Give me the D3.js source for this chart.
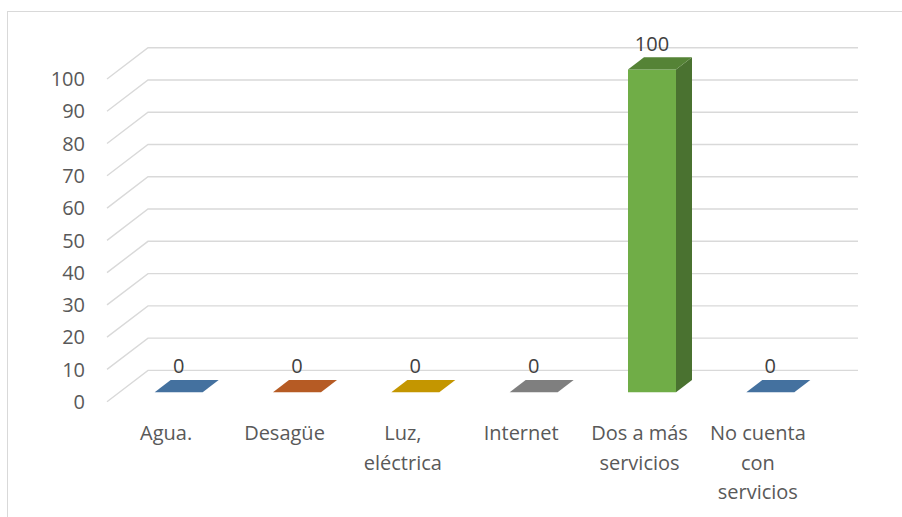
<!DOCTYPE html>
<html>
  <head>
    <meta charset="utf-8">
    <style>
body {
  margin: 0;
  background: #fff;
  font-family: 'Open Sans', sans-serif;
}
</style>
    <title></title>
  </head>
  <body>
    <svg width="902" height="517"></svg>
    <script src="https://d3js.org/d3.v7.min.js"></script>
    <script>
// data
var categories = ["Agua.", "Desagüe", "Luz, eléctrica", "Internet", "Dos a más servicios", "No cuenta con servicios"];
var values = [0, 0, 0, 0, 100, 0];
var yTicks = [0, 10, 20, 30, 40, 50, 60, 70, 80, 90, 100];

// face colours per point (front, top, side)
var frontColors = ["#5b9bd5", "#ed7d31", "#ffc000", "#a5a5a5", "#70ad47", "#5b9bd5"];
var topColors = ["#44719f", "#b65b24", "#c49600", "#7f7f7f", "#558336", "#44719f"];
var sideColors = ["#38618a", "#9a4c1e", "#a67f00", "#6b6b6b", "#4a7230", "#38618a"];

var svg = d3.select("svg");

// chart border (runs off the right and bottom of the picture)
svg.append("rect")
    .attr("x", 7.5)
    .attr("y", 11.5)
    .attr("width", 1000)
    .attr("height", 600)
    .attr("fill", "none")
    .attr("stroke", "#d9d9d9")
    .attr("stroke-width", 1);

// front plane scales, depth goes up and to the right
var depth = 41, slope = 31.3 / 41;

var x = d3.scaleBand()
    .domain(categories)
    .range([107, 817]);

var y = d3.scaleLinear()
    .domain([0, 100])
    .range([401.7, 79]);

var barW = 48, d0 = 12.5, d1 = 28.5;

function pt(px, py, d) { return [px + d, py - d * slope]; }

// grid: side wall diagonals + back wall lines
var grid = svg.append("g")
    .attr("stroke", "#d9d9d9")
    .attr("stroke-width", 1.4)
    .attr("fill", "none");

grid.selectAll("path")
  .data(yTicks)
  .enter().append("path")
    .attr("d", function(t) {
      var a = pt(107, y(t), 0), b = pt(107, y(t), depth), c = pt(817, y(t), depth);
      return d3.line()([a, b, c]);
    });

// y tick labels
svg.append("g")
    .attr("font-size", 20)
    .attr("fill", "#595959")
    .attr("text-anchor", "end")
  .selectAll("text")
  .data(yTicks)
  .enter().append("text")
    .attr("x", 85)
    .attr("y", function(t) { return y(t); })
    .attr("dy", "0.36em")
    .text(function(t) { return t; });

// bars
var bars = svg.append("g")
  .selectAll("g")
  .data(values.map(function(v, i) { return {v: v, i: i, c: categories[i]}; }))
  .enter().append("g");

function bx(d) { return x(d.c) + (x.bandwidth() - barW) / 2; }

bars.filter(function(d) { return d.v > 0; }).append("path")
    .attr("fill", function(d) { return frontColors[d.i]; })
    .attr("d", function(d) {
      var x0 = bx(d), x1 = x0 + barW;
      return d3.line()([pt(x0, y(d.v), d0), pt(x1, y(d.v), d0), pt(x1, y(0), d0), pt(x0, y(0), d0)]) + "Z";
    });

bars.filter(function(d) { return d.v > 0; }).append("path")
    .attr("fill", function(d) { return sideColors[d.i]; })
    .attr("d", function(d) {
      var x1 = bx(d) + barW;
      return d3.line()([pt(x1, y(d.v), d0), pt(x1, y(d.v), d1), pt(x1, y(0), d1), pt(x1, y(0), d0)]) + "Z";
    });

bars.append("path")
    .attr("fill", function(d) { return topColors[d.i]; })
    .attr("d", function(d) {
      var x0 = bx(d), x1 = x0 + barW;
      return d3.line()([pt(x0, y(d.v), d0), pt(x1, y(d.v), d0), pt(x1, y(d.v), d1), pt(x0, y(d.v), d1)]) + "Z";
    });

// data labels
bars.append("text")
    .attr("font-size", 20)
    .attr("fill", "#404040")
    .attr("text-anchor", "middle")
    .attr("x", function(d) { return bx(d) + barW / 2 + d0; })
    .attr("y", function(d) { return y(d.v) - d1 * slope - 6.6; })
    .text(function(d) { return d.v; });

// category labels, wrapped to the band width
var catLabels = svg.append("g")
    .attr("font-size", 20)
    .attr("fill", "#595959")
    .attr("text-anchor", "middle")
  .selectAll("text")
  .data(categories)
  .enter().append("text")
    .attr("x", function(c) { return x(c) + x.bandwidth() / 2; })
    .attr("y", 440);

catLabels.each(function(c) {
  var text = d3.select(this), words = c.split(" "), line = [], lines = [];
  var probe = text.append("tspan");
  words.forEach(function(w) {
    var tryLine = line.concat([w]).join(" ");
    probe.text(tryLine);
    if (line.length && probe.node().getComputedTextLength() > 112) {
      lines.push(line.join(" "));
      line = [w];
    } else {
      line.push(w);
    }
  });
  lines.push(line.join(" "));
  probe.remove();
  lines.forEach(function(l, k) {
    text.append("tspan")
        .attr("x", x(c) + x.bandwidth() / 2)
        .attr("y", 440 + k * 29.5)
        .text(l);
  });
});
</script>
  </body>
</html>
